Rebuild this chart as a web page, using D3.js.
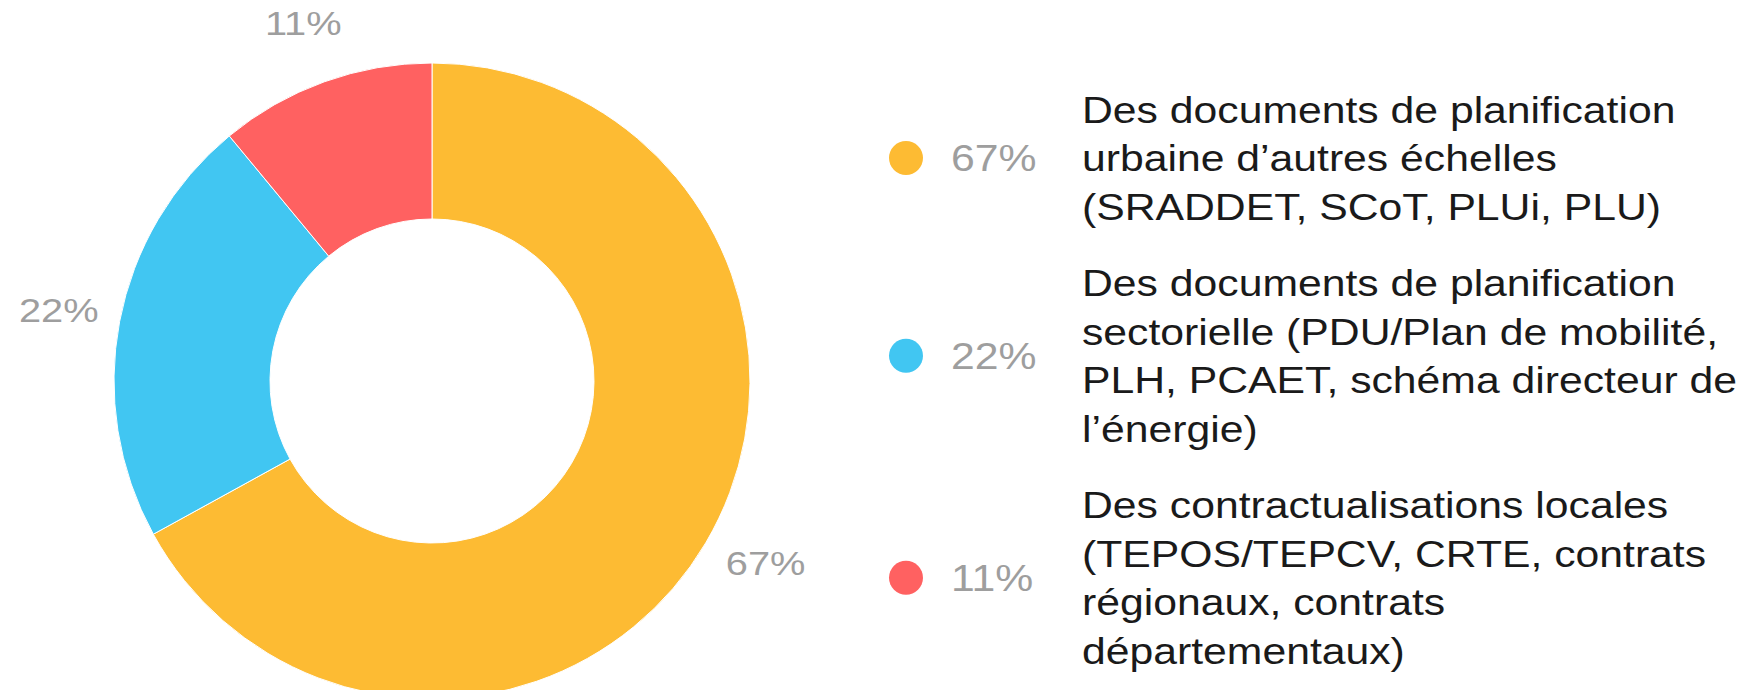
<!DOCTYPE html>
<html>
<head>
<meta charset="utf-8">
<script src="https://cdn.jsdelivr.net/npm/d3@7"></script>
<style>
  body { margin: 0; background: #fff; }
  text { font-family: "Liberation Sans", Arial, sans-serif; }
</style>
</head>
<body>
<div id="chart"></div>
<script>
// valeurs
const categories = [
  ["Des documents de planification", "urbaine d’autres échelles", "(SRADDET, SCoT, PLUi, PLU)"],
  ["Des documents de planification", "sectorielle (PDU/Plan de mobilité,", "PLH, PCAET, schéma directeur de", "l’énergie)"],
  ["Des contractualisations locales", "(TEPOS/TEPCV, CRTE, contrats", "régionaux, contrats", "départementaux)"]
];
const values = [67, 22, 11];
const colors = ["#fdbb33", "#41c6f2", "#ff6161"];

const width = 1751, height = 690;
const cx = 432, cy = 381;
const outerR = 318, innerR = 162;
const sx = 1.17; // le texte est un peu plus large que la normale

const svg = d3.select("#chart").append("svg")
  .attr("width", width)
  .attr("height", height);

const pie = d3.pie().sort(null).value(d => d);
const arcs = pie(values);

const arc = d3.arc().innerRadius(innerR).outerRadius(outerR);
const labelArc = d3.arc().innerRadius(380).outerRadius(380);

const g = svg.append("g").attr("transform", `translate(${cx},${cy})`);

g.selectAll("path")
  .data(arcs)
  .join("path")
  .attr("d", arc)
  .attr("fill", (d, i) => colors[i])
  .attr("stroke", "#fff")
  .attr("stroke-width", 1);

// étiquettes autour de l'anneau
g.selectAll(".lbl")
  .data(arcs)
  .join("text")
  .attr("class", "lbl")
  .attr("transform", d => {
    // petit décalage pour coller à la position d'origine
    const a = (d.startAngle + d.endAngle) / 2 - (d.index === 0 ? 0.035 : 0);
    const [x, y] = labelArc.centroid({ startAngle: a, endAngle: a });
    return `translate(${x},${y + 12}) scale(${sx},1)`;
  })
  .attr("text-anchor", "middle")
  .attr("font-size", 34)
  .attr("fill", "#9e9e9e")
  .text(d => d.data + "%");

// légende
const lineH = 48.5, gapH = 28;
const legX = 906, pctX = 951, txtX = 1082;
let baseY = 122.5; // ligne de base de la première ligne
const legend = svg.append("g");

categories.forEach((lines, i) => {
  const n = lines.length;
  const midBase = baseY + (n - 1) * lineH / 2;
  const dotY = midBase - 13;
  const item = legend.append("g");

  item.append("circle")
    .attr("cx", legX)
    .attr("cy", dotY)
    .attr("r", 17)
    .attr("fill", colors[i]);

  item.append("text")
    .attr("transform", `translate(${pctX},${dotY + 13}) scale(${sx},1)`)
    .attr("font-size", 36.5)
    .attr("fill", "#9e9e9e")
    .text(values[i] + "%");

  item.selectAll(".line")
    .data(lines)
    .join("text")
    .attr("class", "line")
    .attr("transform", (d, j) => `translate(${txtX},${baseY + j * lineH}) scale(${sx},1)`)
    .attr("font-size", 36.5)
    .attr("fill", "#1a1a1a")
    .text(d => d);

  baseY += n * lineH + gapH;
});
</script>
</body>
</html>
